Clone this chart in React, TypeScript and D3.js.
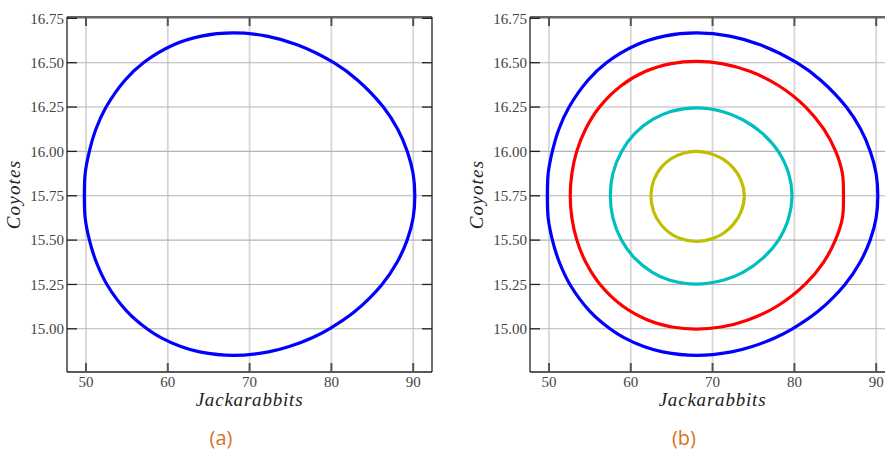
import React from "react";
import * as d3 from "d3";

const xTicks = [50, 60, 70, 80, 90];
const yTicks = [15.0, 15.25, 15.5, 15.75, 16.0, 16.25, 16.5, 16.75];
const xDomain: [number, number] = [47.68, 92.3];
const yDomain: [number, number] = [14.7565, 16.7576];

const blue: [number, number][] = [
  [49.8, 15.75], [49.9, 15.875], [50.41, 16.0], [51.21, 16.125], [52.46, 16.25], [54.74, 16.4],
  [57.02, 16.5], [60.66, 16.6], [64.1, 16.65], [68, 16.668], [72.1, 16.65], [75.9, 16.6],
  [80.3, 16.5], [83.25, 16.4], [86.35, 16.25], [88.11, 16.125], [89.28, 16.0], [89.99, 15.875],
  [90.2, 15.75], [89.99, 15.625], [89.26, 15.5], [88.03, 15.375], [86.19, 15.25], [82.93, 15.1],
  [79.76, 15.0], [77.66, 14.95], [74.85, 14.9], [72.32, 14.87], [68, 14.85], [63.89, 14.87],
  [61.59, 14.9], [59.16, 14.95], [57.46, 15.0], [54.98, 15.1], [52.56, 15.25], [51.27, 15.375],
  [50.42, 15.5], [49.9, 15.625],
];
const red: [number, number][] = [
  [52.6, 15.75], [52.8, 15.875], [53.39, 16.0], [54.47, 16.125], [56.18, 16.25], [58.82, 16.37],
  [61.76, 16.45], [64.94, 16.495], [68, 16.508], [71.13, 16.495], [74.63, 16.45], [78.1, 16.37],
  [81.38, 16.25], [83.6, 16.125], [85.05, 16.0], [85.87, 15.875], [86.0, 15.75], [85.87, 15.625],
  [85.01, 15.5], [83.56, 15.375], [81.3, 15.25], [77.97, 15.13], [74.32, 15.05], [71.03, 15.01],
  [68, 14.998], [65.04, 15.01], [62.05, 15.05], [58.96, 15.13], [56.25, 15.25], [54.5, 15.375],
  [53.41, 15.5], [52.8, 15.625],
];
const cyan: [number, number][] = [
  [57.5, 15.75], [57.81, 15.875], [58.88, 16.0], [60.47, 16.1], [62.68, 16.18], [64.9, 16.225],
  [68, 16.245], [71.16, 16.225], [73.64, 16.18], [76.13, 16.1], [78.03, 16.0], [79.3, 15.875],
  [79.71, 15.75], [79.3, 15.625], [78.06, 15.5], [76.19, 15.4], [73.77, 15.32], [71.38, 15.275],
  [68, 15.252], [64.7, 15.275], [62.59, 15.32], [60.44, 15.4], [58.86, 15.5], [57.81, 15.625],
];
const yellow: [number, number][] = [
  [62.46, 15.75], [62.83, 15.84], [63.72, 15.91], [64.97, 15.96], [66.44, 15.99], [68, 16.0],
  [69.6, 15.99], [71.13, 15.96], [72.47, 15.91], [73.46, 15.84], [73.88, 15.75], [73.48, 15.66],
  [72.56, 15.59], [71.37, 15.54], [70.1, 15.51], [68, 15.492], [65.96, 15.51], [64.77, 15.54],
  [63.65, 15.59], [62.8, 15.66],
];

const leftSeries = [{ data: blue, color: "#0000ff" }];
const rightSeries = [
  { data: blue, color: "#0000ff" },
  { data: red, color: "#ff0000" },
  { data: cyan, color: "#00bfbf" },
  { data: yellow, color: "#bfbf00" },
];

const top = 17;
const bottom = 372;
const serif = "'Liberation Serif', 'DejaVu Serif', serif";

function Panel({ x0, x1, series, caption, capX }: { x0: number; x1: number; series: { data: [number, number][]; color: string }[]; caption: string; capX: number }) {
  const xs = d3.scaleLinear().domain(xDomain).range([x0, x1]);
  const ys = d3.scaleLinear().domain(yDomain).range([bottom, top]);
  const line = d3
    .line<[number, number]>()
    .x((d) => xs(d[0]))
    .y((d) => ys(d[1]))
    .curve(d3.curveCatmullRomClosed.alpha(0.5));
  const cx = (x0 + x1) / 2;
  return (
    <g>
      {xTicks.map((t) => (
        <line key={"gx" + t} x1={xs(t)} x2={xs(t)} y1={top} y2={bottom} stroke="#d6d6d6" strokeWidth={1.8} />
      ))}
      {yTicks.map((t) => (
        <line key={"gy" + t} x1={x0} x2={x1} y1={ys(t)} y2={ys(t)} stroke="#b4b4b4" strokeWidth={1.1} />
      ))}
      {series.map((s, i) => (
        <path key={i} d={line(s.data) || ""} fill="none" stroke={s.color} strokeWidth={3.2} />
      ))}
      <line x1={x0} x2={x1} y1={top} y2={top} stroke="#666" strokeWidth={2} />
      <line x1={x1} x2={x1} y1={top} y2={bottom} stroke="#222" strokeWidth={1.3} />
      <line x1={x0} x2={x0} y1={top} y2={bottom} stroke="#222" strokeWidth={1.3} />
      <line x1={x0} x2={x1} y1={bottom} y2={bottom} stroke="#222" strokeWidth={1.3} />
      {xTicks.map((t) => (
        <g key={"tx" + t}>
          <line x1={xs(t)} x2={xs(t)} y1={bottom} y2={bottom - 9} stroke="#555" strokeWidth={2} />
          <line x1={xs(t)} x2={xs(t)} y1={top} y2={top + 9} stroke="#555" strokeWidth={2} />
          <text x={xs(t)} y={387} textAnchor="middle" fontFamily={serif} fontSize={15} fill="#444">
            {t}
          </text>
        </g>
      ))}
      {yTicks.map((t) => (
        <g key={"ty" + t}>
          <line x1={x0} x2={x0 + 10} y1={ys(t)} y2={ys(t)} stroke="#222" strokeWidth={1.3} />
          <line x1={x1} x2={x1 - 10} y1={ys(t)} y2={ys(t)} stroke="#222" strokeWidth={1.3} />
          <text x={x0 - 3} y={ys(t)} dy="0.35em" textAnchor="end" fontFamily={serif} fontSize={15} fill="#444">
            {t.toFixed(2)}
          </text>
        </g>
      ))}
      <text x={cx} y={406} textAnchor="middle" fontFamily={serif} fontStyle="italic" fontSize={19} letterSpacing={0.8} fill="#222">
        Jackarabbits
      </text>
      <text
        transform={`translate(${x0 - 47},${(top + bottom) / 2}) rotate(-90)`}
        textAnchor="middle"
        fontFamily={serif}
        fontStyle="italic"
        fontSize={19}
        letterSpacing={1.2}
        fill="#222"
      >
        Coyotes
      </text>
      <text x={capX} y={445} textAnchor="middle" fontFamily="'Open Sans', sans-serif" fontSize={20} fill="#d9731c">
        {caption}
      </text>
    </g>
  );
}

export default function App() {
  return (
    <svg width={885} height={450} style={{ position: "absolute", left: 0, top: 0, background: "#fff" }}>
      <Panel x0={67} x1={432} series={leftSeries} caption="(a)" capX={221} />
      <Panel x0={530} x1={895} series={rightSeries} caption="(b)" capX={684} />
    </svg>
  );
}
